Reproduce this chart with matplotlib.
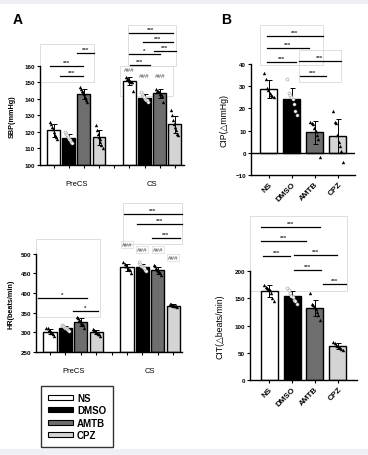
import numpy as np
import matplotlib.pyplot as plt
from matplotlib.patches import Rectangle, Patch
from matplotlib.transforms import blended_transform_factory

plt.rcParams['font.family'] = ['Liberation Sans', 'DejaVu Sans']

groups = ['NS', 'DMSO', 'AMTB', 'CPZ']
colors = ['white', 'black', '#6e6e6e', '#d4d4d4']
periods = ['PreCS', 'CS']

# individual animals
sbp_pre = [[126, 125, 123, 122, 120, 118, 117, 116],
           [120, 119, 118, 117, 116, 115, 114, 113],
           [147, 146, 145, 144, 143, 141, 139, 138],
           [124, 121, 119, 117, 116, 114, 112, 110]]
sbp_cs = [[153, 152, 152, 151, 151, 150, 150, 145],
          [144, 143, 142, 141, 140, 139, 139, 138],
          [146, 145, 145, 144, 143, 143, 142, 138],
          [133, 130, 127, 125, 123, 121, 119, 118]]
hr_pre = [[312, 310, 306, 303, 300, 298, 295, 292],
          [318, 316, 314, 312, 310, 308, 306, 304],
          [340, 336, 332, 328, 325, 321, 318, 310],
          [308, 305, 303, 301, 299, 297, 295, 292]]
hr_cs = [[478, 475, 470, 468, 465, 462, 458, 452],
         [478, 474, 470, 468, 466, 464, 460, 456],
         [472, 468, 463, 460, 457, 455, 450, 445],
         [372, 371, 370, 369, 368, 367, 366, 364]]
cip = [[36, 33, 29, 28, 27, 26, 25.5, 25],
       [33, 27, 26, 25, 24, 22, 19, 17],
       [14, 13.5, 13, 11, 10, 8, 6, -2],
       [19, 14, 13.5, 8, 5, 3, 1, -4]]
cit = [[175, 172, 170, 168, 166, 160, 150, 145],
       [170, 165, 160, 155, 152, 148, 145, 140],
       [160, 140, 138, 135, 130, 125, 120, 110],
       [70, 68, 65, 63, 61, 59, 57, 55]]

# significance brackets: (x1, x2, y, text)
sbp_sig = [(1.55, 2.66, 167.7, '***'), (-0.23, 1.94, 159.8, '***'), (0.43, 1.94, 153.8, '***'),
           (4.97, 7.86, 179.8, '***'), (5.89, 7.86, 174.3, '***'), (4.97, 7.0, 167.0, '*'),
           (6.6, 8.06, 168.9, '***'), (5.03, 6.35, 160.4, '***')]
sbp_hash = [(5, 156, '###'), (6, 152.5, '###'), (7, 152.5, '###')]
hr_sig = [(-0.78, 2.4, 387.8, '*'), (1.49, 3.12, 354.6, '*'),
          (4.8, 8.57, 602, '***'), (5.65, 8.57, 576.5, '***'), (6.62, 8.44, 540.8, '***')]
hr_hash = [(5, 518, '###'), (6, 505, '###'), (7, 505, '###'), (8, 485, '###')]
cip_sig = [(-0.09, 2.35, 52.6, '***'), (-0.09, 1.74, 47.2, '***'), (-0.09, 1.17, 40.9, '***'),
           (1.3, 3.13, 41.4, '***'), (1.35, 2.48, 34.6, '***')]
cit_sig = [(-0.35, 2.22, 281.5, '***'), (-0.35, 1.6, 255.8, '***'), (-0.26, 0.91, 228.2, '***'),
           (1.09, 2.96, 230, '***'), (1.09, 2.26, 202.4, '***'), (2.35, 3.35, 176.6, '***')]

offs = np.array([-0.27, -0.19, -0.11, -0.04, 0.04, 0.11, 0.19, 0.27])
box_c = '#d9d9d9'


def draw_bars(ax, xs, samples, base, width):
    for x, pts, c in zip(xs, samples, colors):
        pts = np.array(pts, dtype=float)
        m, sd = pts.mean(), pts.std(ddof=1)
        ax.bar(x, m - base, bottom=base, width=width, color=c, edgecolor='black',
               linewidth=1.0, zorder=2)
        ax.errorbar(x, m, yerr=sd, color='black', capsize=1.8, elinewidth=0.7,
                    capthick=0.7, zorder=3)
        if c == 'black':
            ax.scatter(x + offs * width, pts, s=5, marker='o', facecolor='white',
                       edgecolor='#999999', linewidth=0.4, zorder=4)
        else:
            ax.scatter(x + offs * width, pts, s=6, marker='^', color='black',
                       linewidth=0, zorder=4)


def draw_sig(ax, sig, fs=4.5):
    for x1, x2, y, t in sig:
        ax.plot([x1, x2], [y, y], color='black', lw=0.9, clip_on=False, zorder=5)
        ax.annotate(t, ((x1 + x2) / 2, y), xytext=(0, 0.8), textcoords='offset points',
                    ha='center', va='bottom', fontsize=fs, fontweight='bold',
                    color='#333333', annotation_clip=False)


def draw_box(ax, x1, x2, y1, y2):
    ax.add_patch(Rectangle((x1, y1), x2 - x1, y2 - y1, fill=False, ec=box_c,
                           lw=0.6, clip_on=False, zorder=1))


def style(ax, lo, hi, step):
    for s in ['top', 'right']:
        ax.spines[s].set_visible(False)
    ax.spines['left'].set_bounds(lo, hi)
    ax.spines['left'].set_linewidth(1.0)
    ax.spines['bottom'].set_linewidth(1.0)
    ax.set_yticks(np.arange(lo, hi + step / 2, step))
    ax.tick_params(axis='y', labelsize=4.5, length=2.5, width=0.8, pad=1)
    for lab in ax.get_yticklabels():
        lab.set_fontweight('bold')


fig = plt.figure(figsize=(3.68, 4.56), dpi=100)
fig.patches.append(Rectangle((0, 0), 1, 6 / 456, transform=fig.transFigure,
                             color='#eef0f6', zorder=0))
fig.patches.append(Rectangle((0, 1 - 4 / 456), 1, 4 / 456, transform=fig.transFigure,
                             color='#eef0f6', zorder=0))

xa = [0, 1, 2, 3, 5, 6, 7, 8]

# ---- SBP ----
ax1 = fig.add_axes([40 / 368, 1 - 166 / 456, 144 / 368, 142.3 / 456])
draw_bars(ax1, xa[:4], sbp_pre, 100, 0.85)
draw_bars(ax1, xa[4:], sbp_cs, 100, 0.85)
ax1.set_xlim(-0.89, 8.6)
ax1.set_ylim(100, 186)
style(ax1, 100, 160, 10)
ax1.set_xticks(range(9), minor=True)
ax1.tick_params(axis='x', which='minor', length=2.5, width=0.8)
ax1.set_xticks([1.5, 6.5], periods)
ax1.tick_params(axis='x', which='major', length=0, labelsize=5.5, pad=11)
draw_sig(ax1, sbp_sig)
draw_box(ax1, -0.89, 2.66, 150, 173)
draw_box(ax1, 4.9, 8.06, 159.8, 184.6)
draw_box(ax1, 4.4, 7.86, 141.7, 159.8)
for x, y, t in sbp_hash:
    ax1.text(x, y, t, ha='center', va='bottom', fontsize=4.5, style='italic', color='#444444')
tr = blended_transform_factory(ax1.transAxes, ax1.transData)
ax1.set_ylabel('SBP(mmHg)', fontsize=5.2, fontweight='bold')
ax1.yaxis.set_label_coords(-0.165, 130, transform=tr)

# ---- HR ----
ax2 = fig.add_axes([36 / 368, 1 - 353 / 456, 146 / 368, 148 / 456])
draw_bars(ax2, xa[:4], hr_pre, 250, 0.85)
draw_bars(ax2, xa[4:], hr_cs, 250, 0.85)
ax2.set_xlim(-0.91, 8.57)
ax2.set_ylim(250, 627)
style(ax2, 250, 500, 50)
ax2.set_xticks(range(9), minor=True)
ax2.tick_params(axis='x', which='minor', length=2.5, width=0.8)
ax2.set_xticks([1.5, 6.5], periods)
ax2.tick_params(axis='x', which='major', length=0, labelsize=5.5, pad=11)
draw_sig(ax2, hr_sig)
draw_box(ax2, -0.91, 3.25, 339, 538)
draw_box(ax2, 4.74, 8.57, 525, 630)
for x, y, t in hr_hash:
    ax2.text(x, y, t, ha='center', va='bottom', fontsize=4.5, style='italic', color='#444444',
             bbox=dict(fc='none', ec=box_c, lw=0.5, pad=0.6))
tr = blended_transform_factory(ax2.transAxes, ax2.transData)
ax2.set_ylabel('HR(beats/min)', fontsize=5.2, fontweight='bold')
ax2.yaxis.set_label_coords(-0.15, 375, transform=tr)

# ---- CIP ----
ax3 = fig.add_axes([251 / 368, 1 - 176 / 456, 104 / 368, 149 / 456])
draw_bars(ax3, range(4), cip, 0, 0.74)
ax3.axhline(0, color='black', lw=1.0, zorder=3)
ax3.set_xlim(-0.78, 3.74)
ax3.set_ylim(-10, 57)
style(ax3, -10, 40, 10)
ax3.set_xticks(range(4), groups, rotation=45, ha='right', rotation_mode='anchor')
ax3.tick_params(axis='x', length=2.5, width=0.8, labelsize=5.8, pad=1.5)
for lab in ax3.get_xticklabels():
    lab.set_fontweight('bold')
draw_sig(ax3, cip_sig)
draw_box(ax3, -0.39, 2.35, 39.5, 57.6)
draw_box(ax3, 1.3, 3.13, 31.9, 46.3)
tr = blended_transform_factory(ax3.transAxes, ax3.transData)
ax3.set_ylabel('CIP(\u25b3mmHg)', fontsize=6.3)
ax3.yaxis.set_label_coords(-0.22, 15, transform=tr)

# ---- CIT ----
ax4 = fig.add_axes([250 / 368, 1 - 381 / 456, 107 / 368, 168.5 / 456])
draw_bars(ax4, range(4), cit, 0, 0.74)
ax4.set_xlim(-0.83, 3.83)
ax4.set_ylim(0, 310)
style(ax4, 0, 200, 50)
ax4.set_xticks(range(4), groups, rotation=45, ha='right', rotation_mode='anchor')
ax4.tick_params(axis='x', length=2.5, width=0.8, labelsize=5.8, pad=1.5)
for lab in ax4.get_xticklabels():
    lab.set_fontweight('bold')
draw_sig(ax4, cit_sig)
draw_box(ax4, -0.83, 3.39, 163.8, 301.7)
tr = blended_transform_factory(ax4.transAxes, ax4.transData)
ax4.set_ylabel('CIT(\u25b3beats/min)', fontsize=6.3)
ax4.yaxis.set_label_coords(-0.24, 100, transform=tr)

fig.text(13 / 368, 1 - 20 / 456, 'A', fontsize=10, fontweight='bold', va='center')
fig.text(221 / 368, 1 - 20 / 456, 'B', fontsize=10, fontweight='bold', va='center')

handles = [Patch(facecolor=c, edgecolor='black', linewidth=0.8) for c in colors]
leg = fig.legend(handles, groups, loc='upper left', bbox_to_anchor=(41 / 368, 1 - 387 / 456),
                 prop={'weight': 'bold', 'size': 7}, handlelength=2.6,
                 handleheight=0.4, labelspacing=0.25, borderpad=0.7, handletextpad=0.4,
                 fancybox=False, frameon=True, borderaxespad=0)
leg.get_frame().set_edgecolor('black')
leg.get_frame().set_linewidth(1.0)

fig.savefig('out.png', dpi=100, facecolor='white')
